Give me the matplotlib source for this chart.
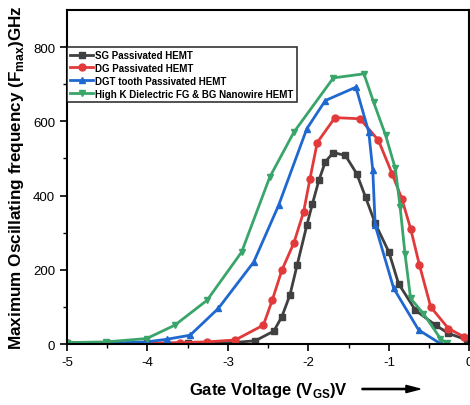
import numpy as np
import matplotlib.pyplot as plt
import matplotlib.patches as mpatches

plt.rcParams['font.family'] = ['Liberation Sans', 'DejaVu Sans']
plt.rcParams['mathtext.fontset'] = 'custom'
plt.rcParams['mathtext.rm'] = 'Liberation Sans'
plt.rcParams['mathtext.bf'] = 'Liberation Sans:bold'

# SG Passivated HEMT
sg_x = [-5.0, -4.5, -4.0, -3.5, -3.0, -2.66, -2.43, -2.33, -2.23, -2.14, -2.02, -1.95, -1.87, -1.79, -1.69,
        -1.54, -1.40, -1.29, -1.17, -1.0, -0.88, -0.67, -0.42, -0.26, -0.03]
sg_y = [2, 2, 2, 2, 3, 9, 35, 74, 132, 213, 320, 378, 441, 491, 516,
        508, 459, 396, 325, 248, 163, 91, 51, 29, 11]

# DG Passivated HEMT
dg_x = [-5.0, -4.5, -4.0, -3.6, -3.26, -2.91, -2.56, -2.45, -2.33, -2.18, -2.06, -1.98, -1.89, -1.67,
        -1.36, -1.13, -0.96, -0.84, -0.73, -0.62, -0.48, -0.26, -0.07]
dg_y = [3, 3, 3, 4, 6, 11, 51, 118, 199, 273, 356, 446, 543, 610,
        607, 549, 459, 392, 311, 213, 100, 42, 20]

# DGT tooth Passivated HEMT
dgt_x = [-5.0, -4.5, -4.26, -4.01, -3.76, -3.47, -3.12, -2.68, -2.37, -2.02, -1.79, -1.41, -1.25,
         -1.20, -1.17, -0.94, -0.63, -0.35]
dgt_y = [3, 3, 4, 6, 13, 24, 96, 221, 374, 580, 656, 692, 571,
         468, 320, 150, 38, 0]

# High K Dielectric FG & BG Nanowire HEMT
hk_x = [-5.0, -4.51, -4.01, -3.66, -3.26, -2.83, -2.48, -2.18, -1.69, -1.31, -1.19, -1.04, -0.92,
        -0.86, -0.80, -0.73, -0.57, -0.36, -0.28]
hk_y = [4, 6, 15, 51, 118, 248, 450, 571, 717, 728, 652, 562, 473,
        369, 244, 123, 82, 15, 2]

fig = plt.figure(figsize=(4.7, 4.06), dpi=100)
ax = fig.add_axes([0.1426, 0.150, 0.856, 0.823])

ax.plot(sg_x, sg_y, color='#404040', marker='s', ms=4.5, lw=2, label='SG Passivated HEMT')
ax.plot(dg_x, dg_y, color='#e23a3a', marker='o', ms=5, lw=2, label='DG Passivated HEMT')
ax.plot(dgt_x, dgt_y, color='#1f68d0', marker='^', ms=5, lw=2, label='DGT tooth Passivated HEMT')
ax.plot(hk_x, hk_y, color='#3aa56a', marker='v', ms=5, lw=2, label='High K Dielectric FG & BG Nanowire HEMT')

ax.set_xlim(-5, 0)
ax.set_ylim(0, 900)
ax.set_xticks([-5, -4, -3, -2, -1, 0])
ax.set_xticklabels(['-5', '-4', '-3', '-2', '-1', '0'])
ax.set_yticks([0, 200, 400, 600, 800])
ax.set_xticks(np.arange(-4.5, 0, 1), minor=True)
ax.set_yticks([100, 300, 500, 700], minor=True)
ax.tick_params(which='major', length=5, width=1.2, labelsize=9.5)
ax.tick_params(which='minor', length=3, width=1)
for s in ax.spines.values():
    s.set_linewidth(1.5)

ax.set_ylabel('Maximum Oscillating frequency (F$_{\\mathbf{max}}$)GHz', fontsize=12.3, fontweight='bold',
              labelpad=5)
ax.set_xlabel('Gate Voltage (V$_{\\mathbf{GS}}$)V', fontsize=12, fontweight='bold', labelpad=9)

fig.patches.append(mpatches.FancyArrow(
    362 / 470, 1 - 390 / 406, 58 / 470, 0, width=0.003, head_width=0.018, head_length=0.03,
    length_includes_head=True, color='black', transform=fig.transFigure, figure=fig))

leg = ax.legend(loc='upper left', bbox_to_anchor=(0.0, 0.889), frameon=True,
                fancybox=False, edgecolor='black', borderpad=0.3, labelspacing=0.3,
                handlelength=2.4, handletextpad=0.2, borderaxespad=0.0,
                prop={'weight': 'bold', 'size': 7})
leg.get_frame().set_linewidth(1.2)

fig.savefig('out.png', dpi=100)
